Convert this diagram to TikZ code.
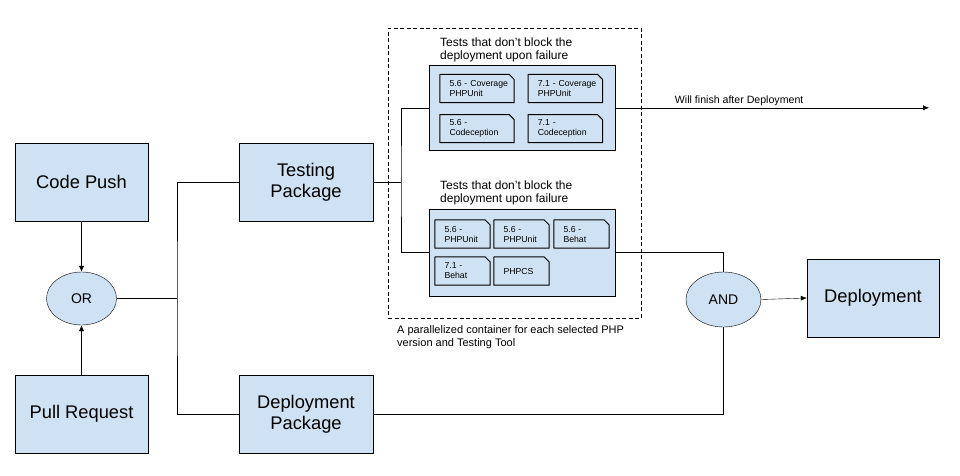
\documentclass[tikz,border=0pt]{standalone}
\usepackage{fontspec}
\setmainfont{Liberation Sans}
\usetikzlibrary{shapes.geometric,arrows.meta}
\definecolor{boxblue}{HTML}{CFE2F3}
\pgfdeclarelayer{front}
\pgfsetlayers{main,front}
\newcommand\cardshape[1]{\draw[card] (#1.south west) -- (#1.north west) -- ([xshift=-5pt]#1.north east) -- ([yshift=-5pt]#1.north east) -- (#1.south east) -- cycle;}
\begin{document}
\begin{tikzpicture}[x=1pt,y=-1pt,
  line width=1pt,
  bigbox/.style={draw, fill=boxblue, minimum height=78pt, inner sep=0pt, align=center, font=\fontsize{18.3}{21}\selectfont},
  gate/.style={ellipse, draw, fill=boxblue, inner sep=0pt, font=\fontsize{14}{16}\selectfont},
  group/.style={draw, fill=boxblue, inner sep=0pt},
  container/.style={draw, dash pattern=on 4pt off 2.5pt, line width=0.9pt, inner sep=0pt},
  cardtext/.style={inner xsep=9.5pt, inner ysep=0pt, align=left, font=\fontsize{8.7}{10}\selectfont, minimum height=27.7pt},
  note/.style={inner sep=0pt, align=left, anchor=north west},
  card/.style={draw, fill=boxblue, line width=1pt, line join=round},
  arr/.style={-{Latex[length=6pt,width=5pt]}},
]
\fill[white] (0,0) rectangle (960,475);
\useasboundingbox (0,0) rectangle (960,475);

% card texts on the front layer
\begin{pgfonlayer}{front}
\node[cardtext, text width=55pt] (c1) at (477,88.5) {\mbox{5.6 - Coverage}\\PHPUnit};
\node[cardtext, text width=55pt] (c2) at (565.3,88.5) {\mbox{7.1 - Coverage}\\PHPUnit};
\node[cardtext, text width=55pt] (c3) at (477,128.6) {5.6 -\\Codeception};
\node[cardtext, text width=55pt] (c4) at (565.3,128.6) {7.1 -\\Codeception};
\node[cardtext, text width=36pt] (d1) at (462.5,234) {5.6 -\\PHPUnit};
\node[cardtext, text width=36pt] (d2) at (521.5,234) {5.6 -\\PHPUnit};
\node[cardtext, text width=36pt] (d3) at (581.5,234) {5.6 -\\Behat};
\node[cardtext, text width=36pt] (d4) at (462.5,271) {7.1 -\\Behat};
\node[cardtext, text width=36pt] (d5) at (521.5,271) {PHPCS};
\end{pgfonlayer}

% main boxes
\node[bigbox, minimum width=133pt] (push) at (81.5,182) {Code Push};
\node[bigbox, minimum width=133pt] (pr) at (81.5,414.2) {Pull Request};
\node[gate, minimum width=70pt, minimum height=53pt] (orr) at (81.5,298.5) {OR};
\node[bigbox, minimum width=134pt] (tp) at (306,182) {Testing\\Package};
\node[bigbox, minimum width=134pt] (dp) at (306,414.2) {Deployment\\Package};
\node[container, minimum width=253pt, minimum height=290pt] (cont) at (514.5,173) {};
\node[group, minimum width=186pt, minimum height=85.7pt] (up) at (522,107.8) {};
\node[group, minimum width=186.7pt, minimum height=87pt] (lo) at (522.3,252.5) {};
\node[gate, minimum width=75pt, minimum height=55pt] (and) at (723.5,299.5) {AND};
\node[bigbox, minimum width=132pt] (dep) at (873,298) {Deployment};

% card outlines
\cardshape{c1}\cardshape{c2}\cardshape{c3}\cardshape{c4}
\cardshape{d1}\cardshape{d2}\cardshape{d3}\cardshape{d4}\cardshape{d5}

% labels
\node[note, font=\fontsize{12}{12.8}\selectfont] (l1) at (440,38) {Tests that don’t block the\\deployment upon failure};
\node[note, font=\fontsize{12}{12.8}\selectfont] (l2) at (440,181) {Tests that don’t block the\\deployment upon failure};
\node[note, font=\fontsize{11}{13.5}\selectfont] (cap) at (397,325) {A parallelized container for each selected PHP\\version and Testing Tool};

% connectors
\coordinate (j1) at (177,298.5);
\coordinate (j2) at (401,182);
\coordinate (fin) at (929,107.8);
\draw (orr.east) -- (j1);
\draw (tp.west) -| (j1) |- (dp.west);
\draw (tp.east) -- (j2);
\draw (up.west) -| (j2) |- (lo.west);
\draw (lo.east) -| (and.north);
\draw (dp.east) -| (and.south);
\draw[arr] (and.east) -- (dep.west);
\draw[arr] (up.east) -- node[pos=0.395, above=1.5pt, inner sep=0pt, font=\fontsize{10.6}{12}\selectfont] (fintext) {Will finish after Deployment} (fin);
\draw[arr] (push.south) -- (orr.north);
\draw[arr] (pr.north) -- (orr.south);
\end{tikzpicture}
\end{document}
